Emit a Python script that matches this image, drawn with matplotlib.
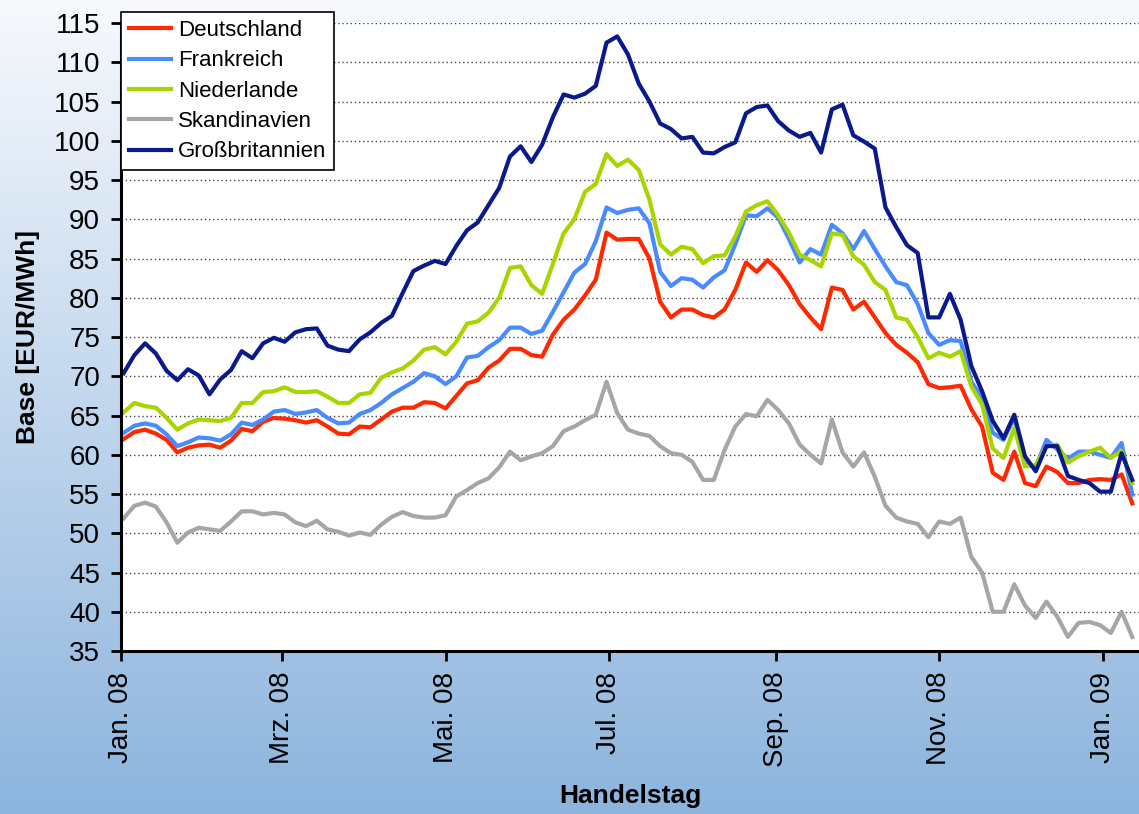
import numpy as np
import pandas as pd
import matplotlib
matplotlib.use("Agg")
import matplotlib.pyplot as plt

plt.rcParams['font.family'] = ['Liberation Sans', 'DejaVu Sans']

# trading days, sampled every 4 days
dates = pd.date_range('2008-01-02', periods=95, freq='4D')

deutschland = [
    62.0, 62.9, 63.2, 62.7, 61.9, 60.3, 60.9, 61.2, 61.3, 60.9,
    61.8, 63.3, 63.0, 64.2, 64.7, 64.6, 64.4, 64.1, 64.4, 63.6,
    62.7, 62.6, 63.6, 63.5, 64.5, 65.5, 66.0, 66.0, 66.7, 66.6,
    65.9, 67.5, 69.1, 69.5, 71.1, 72.0, 73.5, 73.5, 72.7, 72.5,
    75.3, 77.2, 78.5, 80.3, 82.3, 88.3, 87.4, 87.5, 87.5, 85.0,
    79.5, 77.5, 78.5, 78.5, 77.8, 77.5, 78.5, 81.0, 84.5, 83.3,
    84.8, 83.5, 81.6, 79.2, 77.5, 76.0, 81.3, 81.0, 78.5, 79.5,
    77.5, 75.5, 74.0, 73.0, 71.8, 69.0, 68.5, 68.6, 68.8, 65.8,
    63.6, 57.7, 56.8, 60.4, 56.4, 56.0, 58.5, 57.8, 56.4, 56.4,
    56.8, 56.9, 56.8, 57.5, 53.8]

frankreich = [
    62.8, 63.7, 64.0, 63.7, 62.6, 61.1, 61.6, 62.2, 62.1, 61.8,
    62.6, 64.1, 63.8, 64.5, 65.5, 65.7, 65.2, 65.4, 65.7, 64.7,
    64.0, 64.1, 65.2, 65.7, 66.6, 67.7, 68.5, 69.3, 70.4, 70.0,
    69.0, 70.0, 72.4, 72.6, 73.7, 74.6, 76.2, 76.2, 75.4, 75.8,
    78.2, 80.7, 83.2, 84.3, 87.2, 91.5, 90.8, 91.2, 91.4, 89.5,
    83.3, 81.5, 82.5, 82.3, 81.3, 82.6, 83.5, 86.8, 90.5, 90.4,
    91.4, 90.2, 87.5, 84.5, 86.2, 85.5, 89.3, 88.2, 86.2, 88.5,
    86.2, 84.0, 82.0, 81.6, 79.2, 75.5, 74.0, 74.6, 74.5, 69.3,
    67.3, 62.8, 61.9, 64.7, 59.0, 58.4, 61.9, 60.7, 59.5, 60.4,
    60.4, 60.0, 59.6, 61.5, 54.9]

niederlande = [
    65.4, 66.6, 66.2, 66.0, 64.7, 63.2, 64.0, 64.5, 64.4, 64.3,
    64.7, 66.6, 66.6, 68.0, 68.1, 68.6, 68.0, 68.0, 68.1, 67.4,
    66.6, 66.6, 67.7, 67.9, 69.8, 70.5, 71.0, 72.0, 73.4, 73.7,
    72.8, 74.4, 76.7, 77.0, 78.1, 80.0, 83.8, 84.0, 81.6, 80.5,
    84.3, 88.2, 90.0, 93.5, 94.5, 98.3, 96.8, 97.6, 96.3, 92.5,
    86.8, 85.5, 86.5, 86.2, 84.4, 85.3, 85.4, 87.8, 91.0, 91.8,
    92.3, 90.5, 88.3, 85.5, 84.8, 84.0, 88.2, 88.0, 85.3, 84.2,
    82.0, 81.0, 77.5, 77.2, 75.0, 72.3, 73.0, 72.5, 73.2, 68.7,
    66.4, 60.8, 59.6, 63.4, 58.5, 58.7, 61.1, 61.3, 59.0, 59.8,
    60.4, 60.9, 59.6, 60.5, 56.4]

skandinavien = [
    51.9, 53.5, 53.9, 53.4, 51.4, 48.8, 50.1, 50.7, 50.5, 50.3,
    51.5, 52.8, 52.8, 52.4, 52.6, 52.4, 51.4, 50.9, 51.6, 50.5,
    50.2, 49.7, 50.1, 49.8, 51.1, 52.1, 52.7, 52.2, 52.0, 52.0,
    52.3, 54.7, 55.5, 56.4, 57.0, 58.4, 60.4, 59.3, 59.8, 60.2,
    61.1, 63.0, 63.6, 64.4, 65.1, 69.3, 65.3, 63.2, 62.7, 62.4,
    61.1, 60.2, 60.0, 59.1, 56.8, 56.8, 60.6, 63.6, 65.2, 64.9,
    67.0, 65.7, 64.0, 61.3, 60.0, 58.9, 64.5, 60.3, 58.5, 60.3,
    57.2, 53.5, 52.0, 51.5, 51.2, 49.5, 51.5, 51.2, 52.0, 47.0,
    45.0, 40.0, 40.0, 43.5, 40.8, 39.2, 41.3, 39.4, 36.8, 38.6,
    38.7, 38.3, 37.3, 40.0, 36.8]

grossbritannien = [
    70.4, 72.7, 74.2, 72.9, 70.7, 69.5, 70.9, 70.1, 67.7, 69.6,
    70.8, 73.2, 72.3, 74.2, 74.9, 74.4, 75.6, 76.0, 76.1, 73.9,
    73.4, 73.2, 74.7, 75.6, 76.8, 77.7, 80.6, 83.4, 84.1, 84.7,
    84.3, 86.6, 88.6, 89.6, 91.8, 94.0, 98.0, 99.3, 97.3, 99.5,
    103.0, 105.9, 105.5, 106.0, 107.0, 112.5, 113.3, 111.0, 107.3, 105.0,
    102.2, 101.5, 100.3, 100.5, 98.5, 98.4, 99.2, 99.8, 103.5, 104.3,
    104.5, 102.5, 101.3, 100.5, 101.0, 98.5, 104.0, 104.6, 100.7, 99.9,
    99.0, 91.5, 89.0, 86.7, 85.7, 77.5, 77.5, 80.5, 77.2, 71.3,
    68.1, 64.3, 62.1, 65.1, 59.8, 57.9, 61.1, 61.1, 57.3, 56.8,
    56.4, 55.3, 55.3, 60.2, 56.8]

series_names = ['Deutschland', 'Frankreich', 'Niederlande', 'Skandinavien', 'Großbritannien']
series_colors = ['#ff2800', '#4a8aff', '#a8d400', '#a6a6a6', '#0a1a8a']

tick_dates = ['2008-01-01', '2008-03-01', '2008-05-01', '2008-07-01',
              '2008-09-01', '2008-11-01', '2009-01-01']
tick_labels = ['Jan. 08', 'Mrz. 08', 'Mai. 08', 'Jul. 08', 'Sep. 08', 'Nov. 08', 'Jan. 09']

fig = plt.figure(figsize=(11.39, 8.14), dpi=100)

# blue gradient background
bg = fig.add_axes([0, 0, 1, 1], zorder=-10)
top = np.array([247, 249, 253]) / 255.0
bottom = np.array([140, 180, 221]) / 255.0
t = np.linspace(0, 1, 256)[:, None]
grad = top[None, :] * (1 - t) + bottom[None, :] * t
bg.imshow(grad[:, None, :], aspect='auto', extent=[0, 1, 0, 1])
bg.axis('off')

ax = fig.add_axes([0.1062, 0.2002, 0.8938, 0.7715])
ax.set_facecolor('white')

all_series = [deutschland, frankreich, niederlande, skandinavien, grossbritannien]
for vals, name, col in zip(all_series, series_names, series_colors):
    ax.plot(dates, vals, color=col, lw=3, label=name, solid_joinstyle='round')

ax.set_ylim(35, 115)
ax.set_yticks(range(35, 116, 5))
ax.set_xlim(pd.Timestamp('2008-01-01'), pd.Timestamp('2009-01-14 12:00'))
ax.set_xticks(pd.to_datetime(tick_dates))
ax.set_xticklabels(tick_labels, rotation=90, fontsize=20)
ax.tick_params(axis='y', labelsize=20, length=7, width=2, pad=8)
ax.tick_params(axis='x', length=7, width=2, pad=8)

ax.yaxis.grid(True, linestyle=(0, (1, 2)), color='#444444', lw=1)
ax.set_axisbelow(True)

for s in ['top', 'right']:
    ax.spines[s].set_visible(False)
for s in ['left', 'bottom']:
    ax.spines[s].set_linewidth(2.2)

ax.set_ylabel('Base [EUR/MWh]', fontsize=19, fontweight='bold', labelpad=10)
ax.set_xlabel('Handelstag', fontsize=19, fontweight='bold', labelpad=12)

leg = ax.legend(loc='upper left', bbox_to_anchor=(0.0, 1.017), fontsize=16,
                frameon=True, fancybox=False, framealpha=1, edgecolor='black',
                handlelength=1.9, handletextpad=0.3, labelspacing=0.42,
                borderpad=0.35, borderaxespad=0)
leg.get_frame().set_linewidth(1.2)

fig.savefig('out.png', dpi=100)
